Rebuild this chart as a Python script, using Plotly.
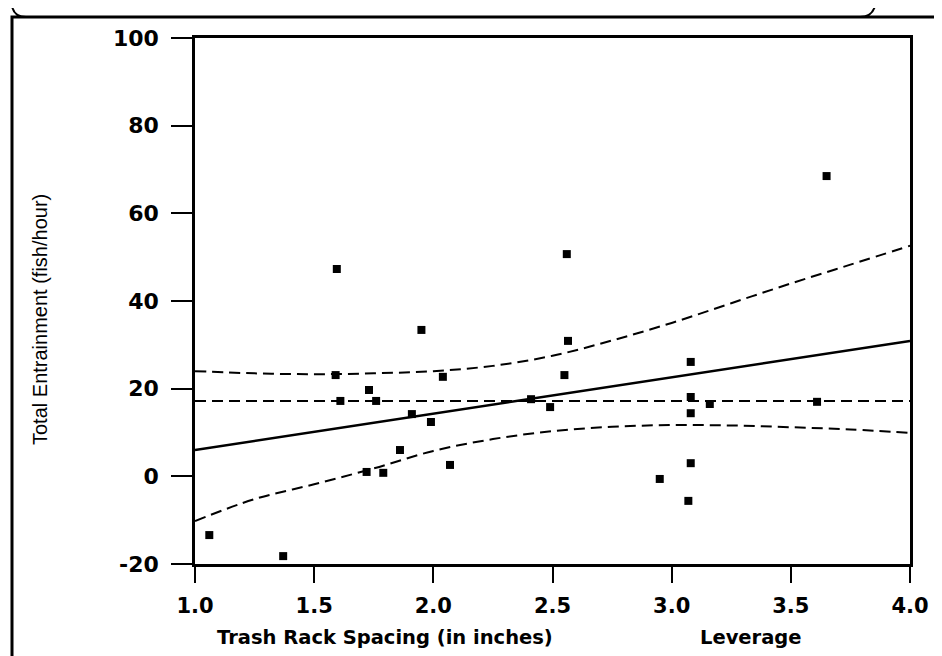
import plotly.graph_objects as go

# ---- data ----
spacing = [1.06, 1.37, 1.595, 1.59, 1.61, 1.73, 1.76, 1.72, 1.79, 1.86, 1.91, 1.95, 1.99,
           2.04, 2.07, 2.56, 2.41, 2.49, 2.55, 2.565, 2.95, 3.07, 3.08, 3.08, 3.08, 3.08,
           3.16, 3.61, 3.65]
entrainment = [-13.4, -18.2, 47.3, 23.1, 17.2, 19.7, 17.2, 1.0, 0.8, 6.0, 14.2, 33.4, 12.4,
               22.7, 2.6, 50.7, 17.6, 15.8, 23.1, 30.9, -0.6, -5.6, 26.1, 18.1, 14.4, 3.0,
               16.5, 17.0, 68.5]

fit_x = [1.0, 4.0]
fit_y = [6.0, 30.9]

mean_y = 17.2

band_x = [1.0, 1.25, 1.5, 1.75, 2.0, 2.25, 2.5, 2.75, 3.0, 3.25, 3.5, 3.75, 4.0]
upper_y = [24.0, 23.5, 23.3, 23.5, 24.0, 25.2, 27.5, 31.0, 35.0, 39.5, 44.0, 48.3, 52.6]
lower_y = [-10.2, -5.2, -1.8, 1.8, 5.8, 8.5, 10.3, 11.3, 11.7, 11.6, 11.2, 10.7, 9.9]

x_ticks = [1.0, 1.5, 2.0, 2.5, 3.0, 3.5, 4.0]
y_ticks = [-20, 0, 20, 40, 60, 80, 100]

x_title = "Trash Rack Spacing (in inches)"
x_title2 = "Leverage"
y_title = "Total Entrainment (fish/hour)"

# ---- figure ----
W, H = 942, 656
ML, MR, MT, MB = 187, 40, 30, 100
PW, PH = W - ML - MR, H - MT - MB


def px(xp):
    return (xp - ML) / PW


def py(yp):
    return (H - MB - yp) / PH


fig = go.Figure()

dash = "11px,6px"
fig.add_trace(go.Scatter(x=band_x, y=upper_y, mode="lines", line=dict(color="black", width=2, dash=dash, shape="spline"), hoverinfo="skip"))
fig.add_trace(go.Scatter(x=band_x, y=lower_y, mode="lines", line=dict(color="black", width=2, dash=dash, shape="spline"), hoverinfo="skip"))
fig.add_trace(go.Scatter(x=[fit_x[0], fit_x[-1]], y=[mean_y, mean_y], mode="lines", line=dict(color="black", width=2, dash=dash), hoverinfo="skip"))
fig.add_trace(go.Scatter(x=fit_x, y=fit_y, mode="lines", line=dict(color="black", width=2.5)))
fig.add_trace(go.Scatter(x=spacing, y=entrainment, mode="markers",
                         marker=dict(symbol="square", size=8, color="black")))

fig.update_xaxes(range=[1.0, 4.0], tickvals=x_ticks, ticktext=[f"{v:.1f}" for v in x_ticks],
                 ticks="outside", ticklen=16, tickwidth=2, tickcolor="black",
                 ticklabelstandoff=5,
                 showline=True, linewidth=2.5, linecolor="black", mirror=True,
                 showgrid=False, zeroline=False,
                 tickfont=dict(family="DejaVu Sans", size=21, color="black", weight="bold"))
fig.update_yaxes(range=[-20, 100], tickvals=y_ticks, ticktext=[str(v) for v in y_ticks],
                 ticks="outside", ticklen=21, tickwidth=2, tickcolor="black",
                 ticklabelstandoff=8,
                 showline=True, linewidth=2.5, linecolor="black", mirror=True,
                 showgrid=False, zeroline=False,
                 tickfont=dict(family="DejaVu Sans", size=22, color="black", weight="bold"))

titlefont = dict(family="DejaVu Sans", size=19.5, color="black", weight="bold")
fig.add_annotation(x=px(207), y=py(629), xref="paper", yref="paper", text=x_title,
                   showarrow=False, xanchor="left", yanchor="middle", font=titlefont)
fig.add_annotation(x=px(690), y=py(629), xref="paper", yref="paper", text=x_title2,
                   showarrow=False, xanchor="left", yanchor="middle", font=titlefont)
fig.add_annotation(x=px(32), y=py(312), xref="paper", yref="paper", text=y_title,
                   showarrow=False, textangle=-90, xanchor="center", yanchor="middle",
                   font=dict(family="Liberation Sans", size=20, color="black"))

# outer frame and header tab outline
fig.add_shape(type="rect", xref="paper", yref="paper", x0=px(4), x1=px(960), y0=py(700), y1=py(9),
              line=dict(color="black", width=3))
fig.add_shape(type="path", xref="paper", yref="paper",
              path=f"M {px(4)} {py(-2)} Q {px(6)} {py(9)} {px(18)} {py(9)}",
              line=dict(color="black", width=2))
fig.add_shape(type="path", xref="paper", yref="paper",
              path=f"M {px(852)} {py(9)} Q {px(864)} {py(9)} {px(867)} {py(-2)}",
              line=dict(color="black", width=2))

fig.update_layout(width=W, height=H, margin=dict(l=ML, r=MR, t=MT, b=MB),
                  paper_bgcolor="white", plot_bgcolor="white", showlegend=False)

fig.write_html("out.html")
